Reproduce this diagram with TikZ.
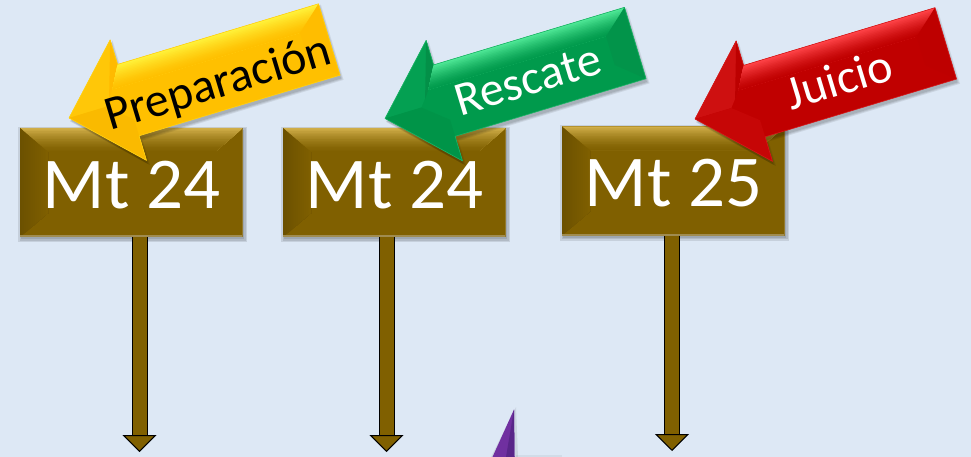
\documentclass[tikz,border=0pt]{standalone}
\usepackage{fontspec}
\setmainfont{Carlito}
\usetikzlibrary{arrows.meta,calc}
\definecolor{pagebg}{HTML}{DDE8F5}
\definecolor{brownmain}{HTML}{806000}
\definecolor{brownlight}{HTML}{D0AE48}
\definecolor{browndark}{HTML}{6C5100}
\definecolor{brownrim}{HTML}{A08C50}
\definecolor{ymain}{HTML}{FFC000}
\definecolor{ylight}{HTML}{FFF23A}
\definecolor{yup}{HTML}{FFC708}
\definecolor{yside}{HTML}{FFBA00}
\definecolor{ylow}{HTML}{FABA00}
\definecolor{gmain}{HTML}{009A4C}
\definecolor{glight}{HTML}{4FE896}
\definecolor{gup}{HTML}{04A052}
\definecolor{gside}{HTML}{039048}
\definecolor{glow}{HTML}{009448}
\definecolor{rmain}{HTML}{C00000}
\definecolor{rlight}{HTML}{FF4448}
\definecolor{rup}{HTML}{CE1010}
\definecolor{rside}{HTML}{BC0000}
\definecolor{rlow}{HTML}{C60606}
\definecolor{pmain}{HTML}{7030A0}
\definecolor{pdark}{HTML}{592689}
\newcommand{\boxbevel}{%
  \foreach \t in {0,...,15}{%
    \pgfmathsetmacro{\f}{\t/15}
    \pgfmathtruncatemacro{\p}{100*(1-\f)^1.5}
    \fill[brownlight!\p!brownmain]
      ($(path picture bounding box.north west)+(28*\f,24*\f)$) --
      ($(path picture bounding box.north east)+(-28*\f,24*\f)$) --
      ($(path picture bounding box.north east)+(-28,24)$) --
      ($(path picture bounding box.north west)+(28,24)$) -- cycle;
    \pgfmathtruncatemacro{\q}{100*(1-\f)}
    \fill[browndark!\q!brownmain]
      ($(path picture bounding box.north west)+(28*\f,24*\f)$) --
      ($(path picture bounding box.south west)+(28*\f,-24*\f)$) --
      ($(path picture bounding box.south west)+(28,-24)$) --
      ($(path picture bounding box.north west)+(28,24)$) -- cycle;
  }%
  \fill[brownrim] ($(path picture bounding box.south west)+(0,-2)$) rectangle (path picture bounding box.south east);
  \fill[brownrim!60!brownmain] ($(path picture bounding box.north east)+(-1,0)$) rectangle (path picture bounding box.south east);
}
\tikzset{
  x=1pt,y=-1pt,
  signbox/.style={minimum width=223pt,minimum height=109pt,inner sep=0pt,fill=brownmain,
    text=white,font=\fontsize{73}{73}\selectfont,text height=51pt,text depth=0pt,
    path picture={\boxbevel}},
  stemhead/.style={line width=16pt,black,
    -{Triangle[length=17pt,width=34pt,fill=brownmain,line width=1pt]}},
  stemfill/.style={line width=14pt,brownmain,shorten >=17.5pt},
  tagtext/.style={inner sep=0pt,rotate=16.8,font=\fontsize{48}{48}\selectfont}
}
% bevelled block arrow: x y length main light up side low
\newcommand{\bevelarrow}[8]{%
  \begin{scope}[shift={(#1,#2)},x={(0.957pt,0.2886pt)},y={(-0.2886pt,0.957pt)}]
    \def\L{#3}
    \foreach \s/\o in {0/.09,1/.09,2/.08}{
      \fill[black,opacity=\o] (\s,-3.5) -- (62+\s,63-3.5+\s) -- (62+\s,37.3-3.5+\s) -- (\L+\s,37.3-3.5+\s)
        -- (\L+\s,-37.3-3.5-\s) -- (62+\s,-37.3-3.5-\s) -- (62+\s,-63-3.5-\s) -- cycle;
    }
    \fill[#4] (0,0) -- (62,63) -- (62,37.3) -- (\L,37.3) -- (\L,-37.3) -- (62,-37.3) -- (62,-63) -- cycle;
    % upper head
    \fill[#6] (0,0) -- (62,63) -- (62,37.3) -- (50,15) -- (38,0) -- cycle;
    % strip beside the barb
    \fill[#7] (62,63) -- (62,37.3) -- (50,15) -- (44,7) -- cycle;
    % lower head
    \fill[#8] (0,0) -- (38,0) -- (62,-20) -- (62,-63) -- cycle;
    % top band
    \foreach \t in {0,...,15}{
      \pgfmathsetmacro{\f}{\t/15}
      \pgfmathtruncatemacro{\p}{100*(1-\f)^1.4}
      \fill[#5!\p!#4] (62-12*\f,37.3-22.3*\f) -- (\L-26*\f,37.3-22.3*\f) -- (\L-26,15) -- (50,15) -- cycle;
    }
    % tail
    \fill[#7!55!#4] (\L,37.3) -- (\L,-37.3) -- (\L-26,-15) -- (\L-26,15) -- cycle;
    % edge
    \draw[#5!35!#4,line width=.6pt,line join=round] (0,0) -- (62,63) -- (62,37.3) -- (\L,37.3) -- (\L,-37.3) -- (62,-37.3) -- (62,-63) -- cycle;
  \end{scope}
}
\begin{document}
\begin{tikzpicture}
  \clip (0,0) rectangle (971,457);
  \fill[pagebg] (0,0) rectangle (971,457);
  \path[use as bounding box] (0,0) rectangle (971,457);

  % box shadows
  \foreach \cx/\cy in {131.5/182.5,394.5/182.5,673.5/181}{
    \foreach \s in {0,1.5,3}{
      \fill[black,opacity=.1] (\cx-111.5+1-\s,\cy-54.5+2-\s) rectangle (\cx+111.5+1+\s,\cy+54.5+2+\s);
    }
  }

  % boxes
  \node[signbox] (b1) at (131.5,182.5) {Mt 24};
  \node[signbox] (b2) at (394.5,182.5) {Mt 24};
  \node[signbox] (b3) at (673.5,181) {Mt 25};

  % connectors
  \coordinate (e1) at (139.5,452);
  \coordinate (e2) at (386.5,452);
  \coordinate (e3) at (672,451);
  \foreach \b/\e in {b1/e1,b2/e2,b3/e3}{
    \draw[stemhead] (\b.south -| \e) -- (\e);
    \draw[stemfill] (\b.south -| \e) -- (\e);
  }

  % tag arrows
  \bevelarrow{69}{118}{272}{ymain}{ylight}{yup}{yside}{ylow}
  \bevelarrow{385}{118.5}{261.5}{gmain}{glight}{gup}{gside}{glow}
  \bevelarrow{695}{119}{262}{rmain}{rlight}{rup}{rside}{rlow}
  \node[tagtext,text=black] (t1) at (218.5,85) {Preparación};
  \node[tagtext,text=white] (t2) at (528,80) {Rescate};
  \node[tagtext,text=white] (t3) at (839,79) {Juicio};

  % purple arrow, cut by the page edge
  \fill[black,opacity=.08] (516,407) -- (491,457) -- (518,457) -- cycle;
  \fill[black,opacity=.05] (516,455) rectangle (562,457);
  \fill[pmain] (514,409.5) -- (492.5,457) -- (514.5,457) -- cycle;
  \fill[pdark] (514,409.5) -- (506,457) -- (514.5,457) -- cycle;
\end{tikzpicture}
\end{document}
